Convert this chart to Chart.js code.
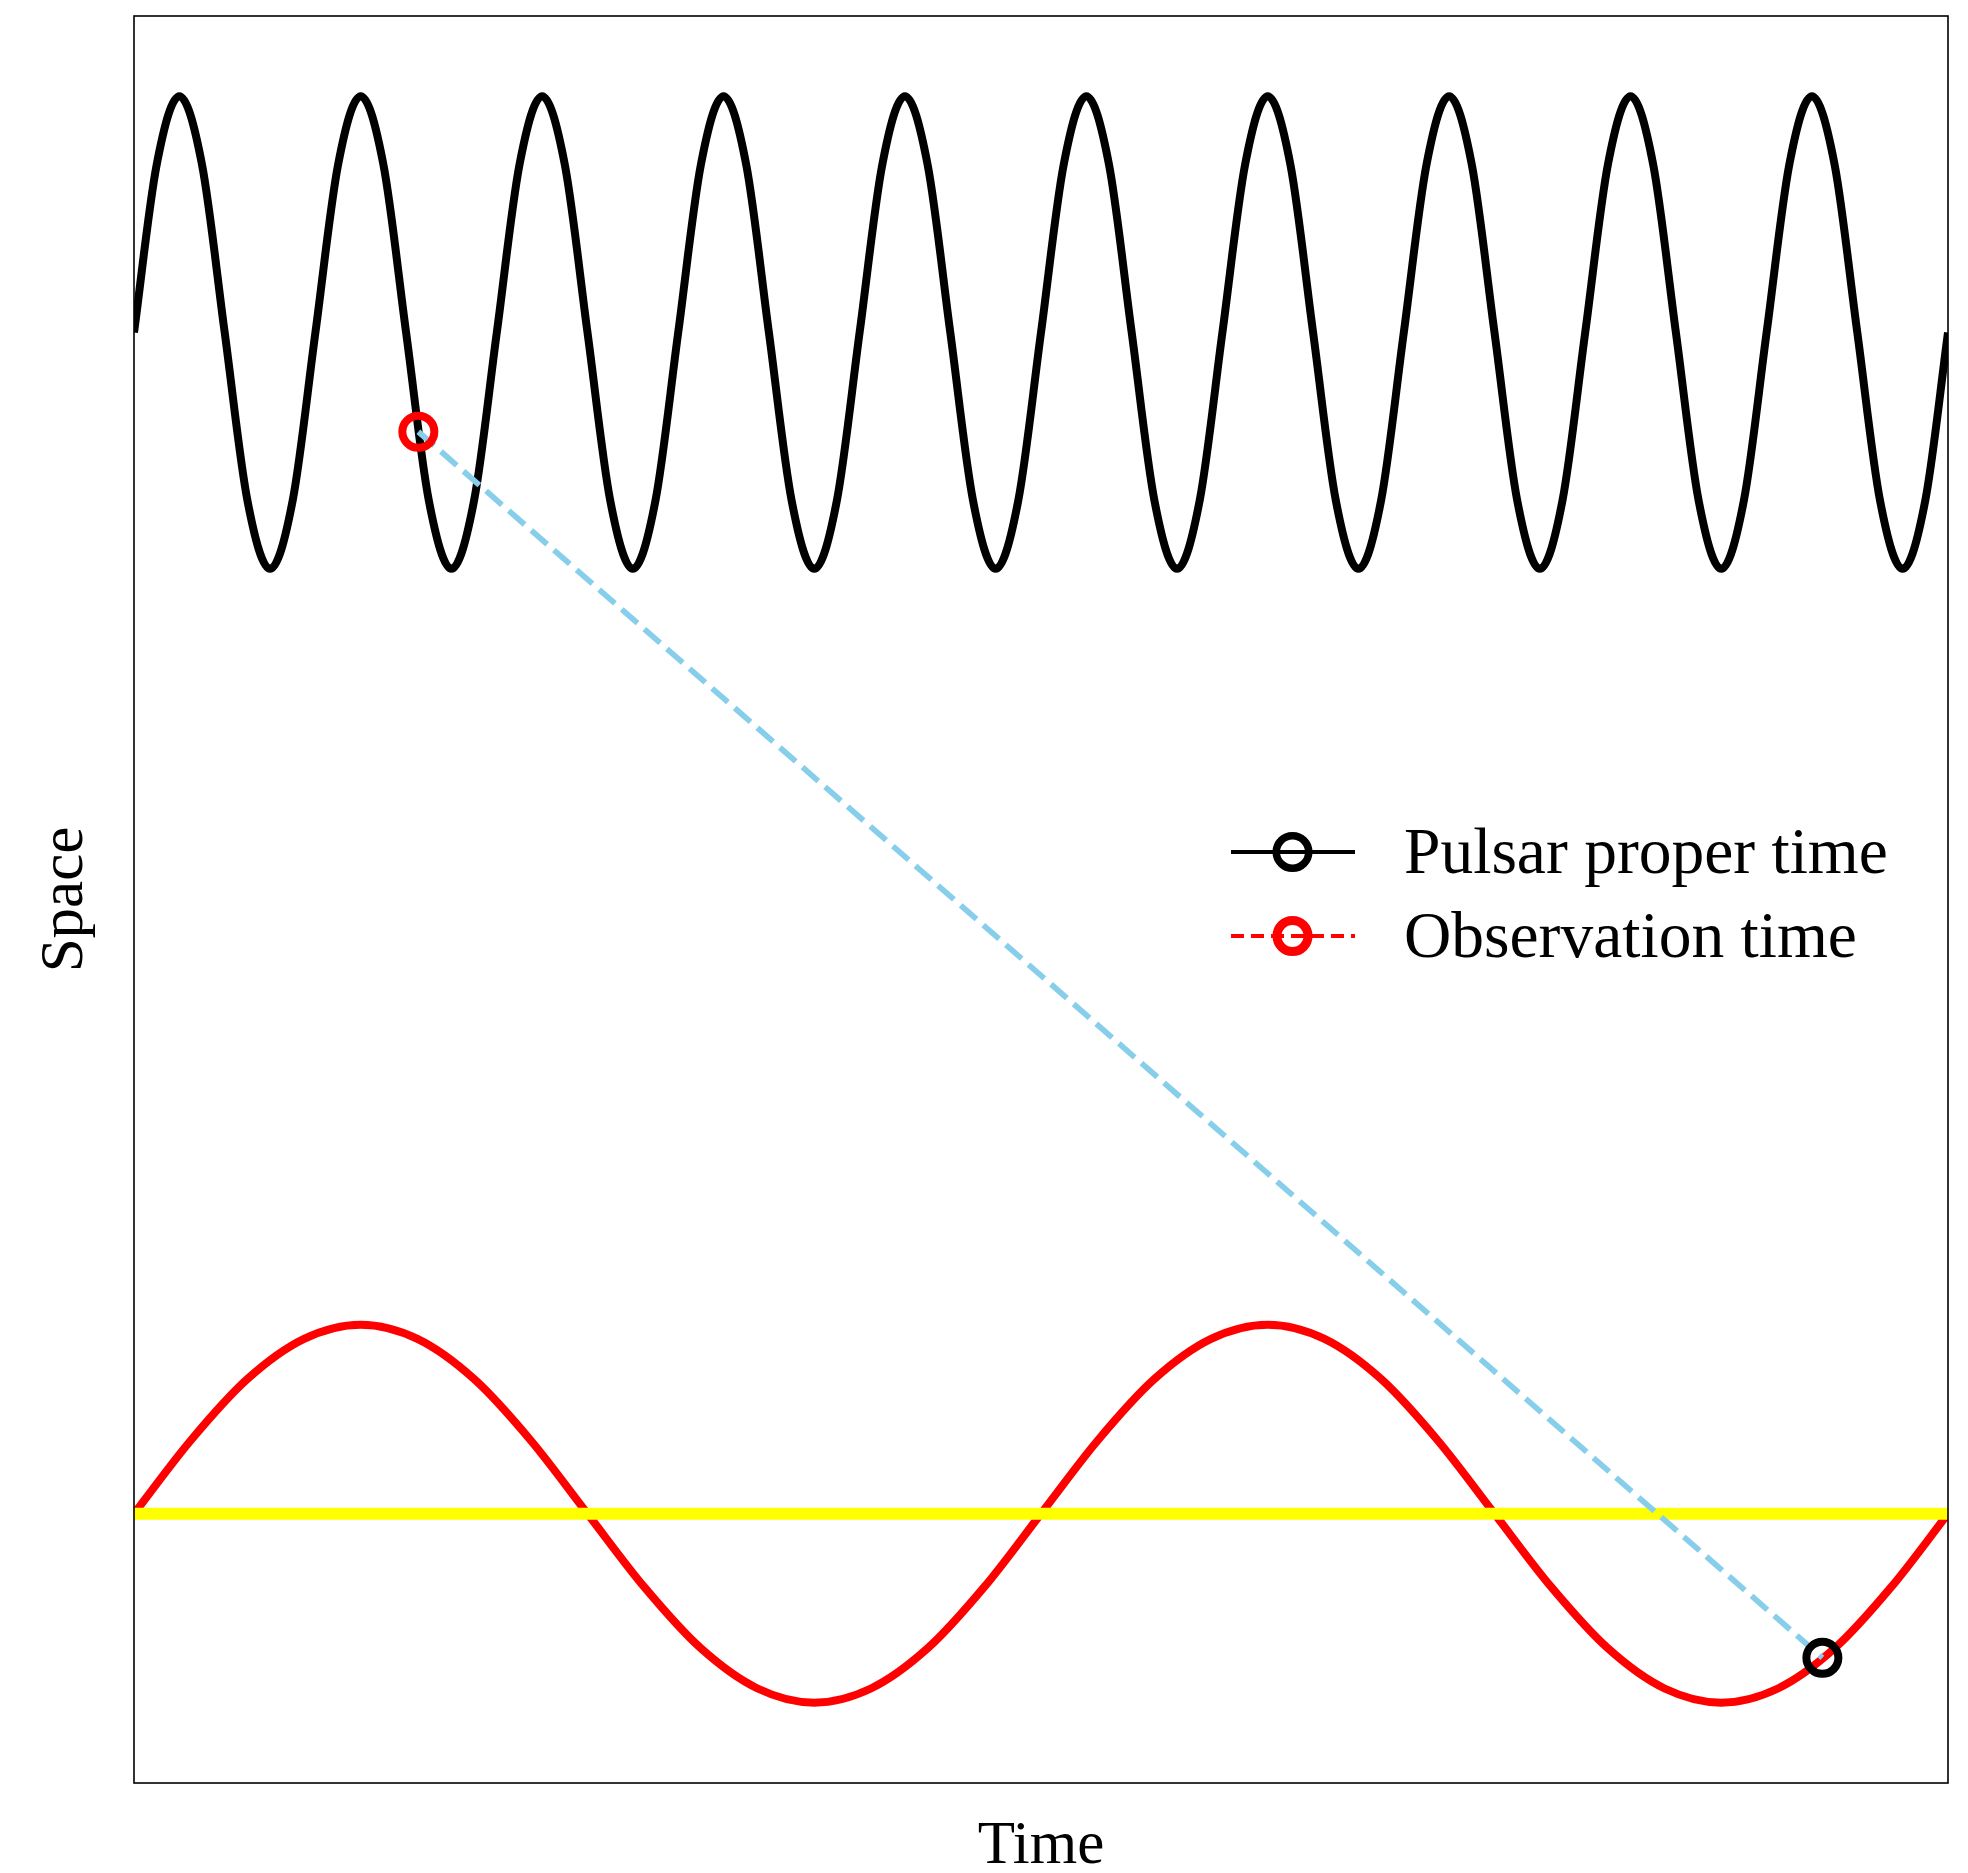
<!DOCTYPE html>
<html>
<head>
<meta charset="utf-8">
<script src="https://cdn.jsdelivr.net/npm/chart.js@4.4.1/dist/chart.umd.min.js"></script>
<style>
  html, body { margin: 0; padding: 0; background: #fff; }
  canvas { display: block; }
</style>
</head>
<body>
<canvas id="myChart" width="1968" height="1873"></canvas>
<script>
// pulsar signal (black): one sample every 1/8 period, 10 periods
const pulsarStep = 0.5;
const pulsarValues = [
    5, 5.71, 6, 5.71, 5, 4.29, 4, 4.29,
    5, 5.71, 6, 5.71, 5, 4.29, 4, 4.29,
    5, 5.71, 6, 5.71, 5, 4.29, 4, 4.29,
    5, 5.71, 6, 5.71, 5, 4.29, 4, 4.29,
    5, 5.71, 6, 5.71, 5, 4.29, 4, 4.29,
    5, 5.71, 6, 5.71, 5, 4.29, 4, 4.29,
    5, 5.71, 6, 5.71, 5, 4.29, 4, 4.29,
    5, 5.71, 6, 5.71, 5, 4.29, 4, 4.29,
    5, 5.71, 6, 5.71, 5, 4.29, 4, 4.29,
    5, 5.71, 6, 5.71, 5, 4.29, 4, 4.29,
    5
];
// observed signal (red): one sample every 1/16 period, 2 periods
const observedStep = 1.25;
const observedValues = [
    0, 0.31, 0.57, 0.74, 0.8, 0.74, 0.57, 0.31,
    0, -0.31, -0.57, -0.74, -0.8, -0.74, -0.57, -0.31,
    0, 0.31, 0.57, 0.74, 0.8, 0.74, 0.57, 0.31,
    0, -0.31, -0.57, -0.74, -0.8, -0.74, -0.57, -0.31,
    0
];
const baselineValue = 0;
const emitPoint = { x: 6.27, y: 4.58 };
const receivePoint = { x: 37.23, y: -0.61 };
const legendLabels = ["Pulsar proper time", "Observation time"];
const xLabel = "Time";
const yLabel = "Space";
const xRange = [0, 40];
const yRange = [-1.14, 6.34];

const pulsarData = pulsarValues.map((v, i) => ({ x: i * pulsarStep, y: v }));
const observedData = observedValues.map((v, i) => ({ x: i * observedStep, y: v }));

// frame, axis titles and the legend
const decorations = {
    id: 'decorations',
    afterDraw(chart) {
        const ctx = chart.ctx;
        const a = chart.chartArea;
        ctx.save();
        ctx.strokeStyle = '#000';
        ctx.lineWidth = 1.6;
        ctx.strokeRect(a.left, a.top, a.right - a.left, a.bottom - a.top);

        ctx.fillStyle = '#000';
        ctx.font = '61px "Liberation Serif"';
        ctx.textAlign = 'center';
        ctx.textBaseline = 'alphabetic';
        ctx.fillText(xLabel, (a.left + a.right) / 2, 1863);
        ctx.save();
        ctx.translate(82, (a.top + a.bottom) / 2);
        ctx.rotate(-Math.PI / 2);
        ctx.fillText(yLabel, 0, 0);
        ctx.restore();

        // legend rows
        const rows = [
            { y: 852, color: '#000', dash: [], ring: 7.5 },
            { y: 936, color: '#ff0000', dash: [13, 7], ring: 9 }
        ];
        ctx.textAlign = 'left';
        ctx.font = '65.5px "Liberation Serif"';
        rows.forEach((r, i) => {
            ctx.strokeStyle = r.color;
            ctx.lineWidth = 4;
            ctx.setLineDash(r.dash);
            ctx.beginPath();
            ctx.moveTo(1231, r.y);
            ctx.lineTo(1355, r.y);
            ctx.stroke();
            ctx.setLineDash([]);
            ctx.lineWidth = r.ring;
            ctx.beginPath();
            ctx.arc(1292.5, r.y, 20 - r.ring / 2, 0, Math.PI * 2);
            ctx.stroke();
            ctx.fillStyle = '#000';
            ctx.fillText(legendLabels[i], 1404, r.y + 21);
        });
        ctx.restore();
    }
};

const ctx = document.getElementById("myChart").getContext("2d");
new Chart(ctx, {
    type: "line",
    data: {
        datasets: [
            {
                label: "emit marker",
                data: [emitPoint],
                showLine: false,
                pointRadius: 16,
                pointBorderWidth: 8,
                pointBorderColor: "#ff0000",
                pointBackgroundColor: "rgba(0,0,0,0)",
                clip: false,
                order: 0
            },
            {
                label: "receive marker",
                data: [receivePoint],
                showLine: false,
                pointRadius: 16,
                pointBorderWidth: 8,
                pointBorderColor: "#000",
                pointBackgroundColor: "rgba(0,0,0,0)",
                clip: false,
                order: 0
            },
            {
                label: "signal path",
                data: [emitPoint, receivePoint],
                borderColor: "#87ceeb",
                borderWidth: 5.7,
                borderDash: [21, 9],
                pointRadius: 0,
                order: 1
            },
            {
                label: "baseline",
                data: [{ x: xRange[0], y: baselineValue }, { x: xRange[1], y: baselineValue }],
                borderColor: "#ffff00",
                borderWidth: 12,
                pointRadius: 0,
                clip: 0,
                order: 2
            },
            {
                label: legendLabels[1],
                data: observedData,
                borderColor: "#ff0000",
                borderWidth: 8,
                pointRadius: 0,
                cubicInterpolationMode: "monotone",
                clip: 0,
                order: 3
            },
            {
                label: legendLabels[0],
                data: pulsarData,
                borderColor: "#000",
                borderWidth: 8,
                pointRadius: 0,
                cubicInterpolationMode: "monotone",
                clip: 0,
                order: 4
            }
        ]
    },
    options: {
        responsive: false,
        animation: false,
        events: [],
        layout: { autoPadding: false, padding: { left: 134, top: 16, right: 20, bottom: 90 } },
        scales: {
            x: { type: "linear", min: xRange[0], max: xRange[1], display: false },
            y: { type: "linear", min: yRange[0], max: yRange[1], display: false }
        },
        plugins: {
            legend: { display: false },
            tooltip: { enabled: false }
        }
    },
    plugins: [decorations]
});
</script>
</body>
</html>
